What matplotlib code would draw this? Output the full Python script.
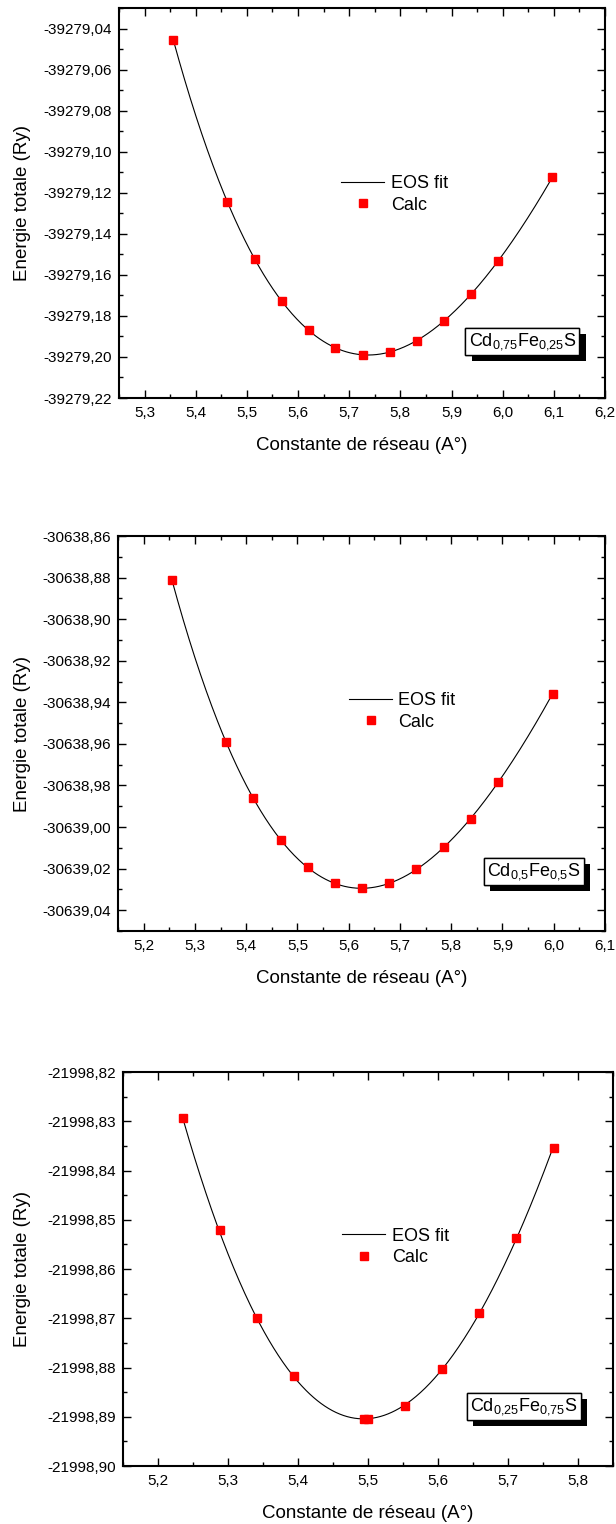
import matplotlib
matplotlib.use('Agg')
import matplotlib.pyplot as plt
import matplotlib.patheffects as pe
import numpy as np
from matplotlib.ticker import MultipleLocator, FuncFormatter

plt.rcParams['font.family'] = ['Liberation Sans', 'DejaVu Sans']
plt.rcParams['mathtext.fontset'] = 'custom'
plt.rcParams['mathtext.rm'] = 'Liberation Sans'
plt.rcParams['mathtext.default'] = 'regular'

# lattice constant (A) and total energy (Ry) for each composition
a_075 = np.array([5.356, 5.462, 5.515, 5.568, 5.621, 5.673, 5.726,
                  5.779, 5.832, 5.885, 5.938, 5.991, 6.097])
e_075 = np.array([-39279.0454, -39279.1246, -39279.1522, -39279.1728,
                  -39279.1870, -39279.1956, -39279.1989, -39279.1976,
                  -39279.1920, -39279.1826, -39279.1694, -39279.1533,
                  -39279.1125])

a_05 = np.array([5.255, 5.361, 5.414, 5.467, 5.520, 5.573, 5.626,
                 5.679, 5.732, 5.785, 5.838, 5.891, 5.998])
e_05 = np.array([-30638.8810, -30638.9592, -30638.9862, -30639.0061,
                 -30639.0194, -30639.0271, -30639.0295, -30639.0271,
                 -30639.0204, -30639.0098, -30638.9960, -30638.9785,
                 -30638.9358])

a_025 = np.array([5.235, 5.288, 5.341, 5.394, 5.494, 5.500, 5.553,
                  5.606, 5.658, 5.711, 5.765])
e_025 = np.array([-21998.8294, -21998.8521, -21998.8700, -21998.8818,
                  -21998.8905, -21998.8905, -21998.8878, -21998.8804,
                  -21998.8690, -21998.8538, -21998.8354])

labels = [r'Cd$_{0{,}75}$Fe$_{0{,}25}$S',
          r'Cd$_{0{,}5}$Fe$_{0{,}5}$S',
          r'Cd$_{0{,}25}$Fe$_{0{,}75}$S']

W, H = 616, 1524


def eos_fit(a, e):
    # Birch-Murnaghan: E is a cubic polynomial in a^-2
    e0 = e.min()
    c = np.polyfit(a ** -2, e - e0, 3)
    aa = np.linspace(a.min(), a.max(), 400)
    return aa, np.polyval(c, aa ** -2) + e0


def comma(fmt):
    return FuncFormatter(lambda v, pos: format(v, fmt).replace('.', ','))


def panel(box, a, e, xlim, ylim, ystep, ylabels_fmt, label, leg_xy, tag_xy):
    l, t, r, b = box
    ax = fig.add_axes([l / W, 1 - b / H, (r - l) / W, (b - t) / H])
    aa, ee = eos_fit(a, e)
    ax.plot(aa, ee, color='black', lw=0.8, label='EOS fit')
    ax.plot(a, e, 's', color='red', ms=5.2, mec='red', label='Calc',
            linestyle='none')
    ax.set_xlim(*xlim)
    ax.set_ylim(*ylim)

    ax.xaxis.set_major_locator(MultipleLocator(0.1))
    ax.xaxis.set_minor_locator(MultipleLocator(0.05))
    ax.yaxis.set_major_locator(MultipleLocator(ystep))
    ax.yaxis.set_minor_locator(MultipleLocator(ystep / 2))
    ax.xaxis.set_major_formatter(comma('.1f'))
    ax.yaxis.set_major_formatter(comma(ylabels_fmt))

    ax.tick_params(which='both', direction='in', top=True, right=True,
                   width=1.0, labelsize=11)
    ax.tick_params(which='major', length=6)
    ax.tick_params(which='minor', length=3)
    ax.tick_params(axis='x', pad=6)
    ax.tick_params(axis='y', pad=5)
    for s in ax.spines.values():
        s.set_linewidth(1.5)

    ax.set_xlabel('Constante de réseau (A°)', fontsize=13.5, labelpad=12)
    ax.set_ylabel('Energie totale (Ry)', fontsize=13.5)
    ax.yaxis.set_label_coords((31 - l) / (r - l), 0.5)

    ax.legend(loc='center left', bbox_to_anchor=leg_xy, frameon=False,
              fontsize=13, borderpad=0, borderaxespad=0, handlelength=2.4,
              handletextpad=0.35, labelspacing=0.25)

    tag = ax.text(*tag_xy, label, transform=ax.transAxes, fontsize=13,
                  ha='center', va='center', zorder=5,
                  bbox=dict(boxstyle='square,pad=0.18', fc='white',
                            ec='black', lw=1.0))
    tag.get_bbox_patch().set_path_effects(
        [pe.withSimplePatchShadow(offset=(4.5, -4.5), shadow_rgbFace='black',
                                  alpha=1.0), pe.Normal()])
    return ax


fig = plt.figure(figsize=(W / 100, H / 100), dpi=100)

panel((119, 8, 605, 398), a_075, e_075, (5.25, 6.2),
      (-39279.22, -39279.03), 0.02, '.2f', labels[0],
      (0.457, 0.522), (0.830, 0.145))
panel((118, 536, 605, 931), a_05, e_05, (5.15, 6.1),
      (-30639.05, -30638.86), 0.02, '.2f', labels[1],
      (0.474, 0.556), (0.854, 0.151))
panel((123, 1072, 613, 1466), a_025, e_025, (5.15, 5.85),
      (-21998.90, -21998.82), 0.01, '.2f', labels[2],
      (0.447, 0.556), (0.818, 0.151))

fig.savefig('out.png', dpi=100)
